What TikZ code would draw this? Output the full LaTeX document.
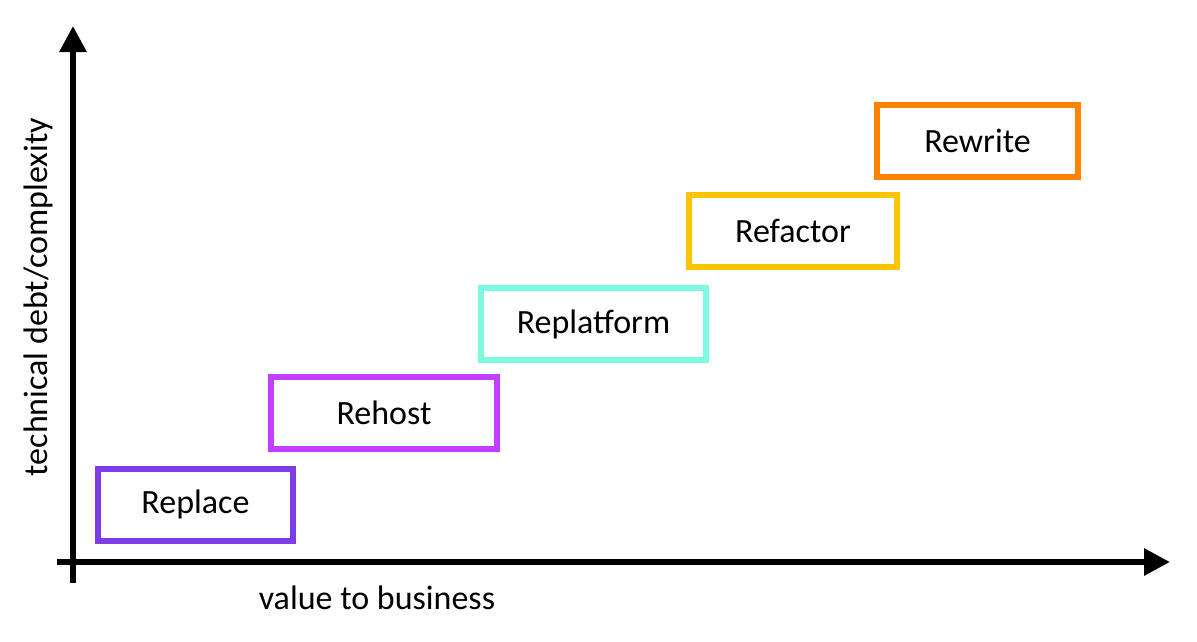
\documentclass[tikz,border=0pt]{standalone}
\usepackage{fontspec}
\setmainfont{Carlito}
\usetikzlibrary{arrows.meta}
\definecolor{cA}{HTML}{7D3CE8}
\definecolor{cB}{HTML}{C140FF}
\definecolor{cC}{HTML}{7FF9E2}
\definecolor{cD}{HTML}{FFC400}
\definecolor{cE}{HTML}{FF8300}
\tikzset{box/.style={draw=#1,line width=6pt,minimum height=72pt,inner sep=0pt,font=\fontsize{34}{38}\selectfont},
axis/.style={line width=6pt,-{Triangle[length=26pt,width=26pt]}}}
\begin{document}
\begin{tikzpicture}[x=1pt,y=-1pt]
\useasboundingbox (0,0) rectangle (1197,641);
\coordinate (y0) at (73,583); \coordinate (y1) at (73,26);
\coordinate (x0) at (57,562); \coordinate (x1) at (1170,562);
\draw[axis] (y0) -- (y1);
\draw[axis] (x0) -- (x1);
\node[box=cA,minimum width=195pt] (a) at (195.5,504.5) {Replace};
\node[box=cB,minimum width=226pt] (b) at (384,413) {Rehost};
\node[box=cC,minimum width=225pt] (c) at (593.5,324) {Replatform};
\node[box=cD,minimum width=208pt] (d) at (793,231) {Refactor};
\node[box=cE,minimum width=201pt] (e) at (977.5,140.5) {Rewrite};
\node[font=\fontsize{34}{38}\selectfont,rotate=90] (yl) at (38,297) {technical debt/complexity};
\node[font=\fontsize{34}{38}\selectfont] (xl) at (377,598) {value to business};
\end{tikzpicture}
\end{document}
